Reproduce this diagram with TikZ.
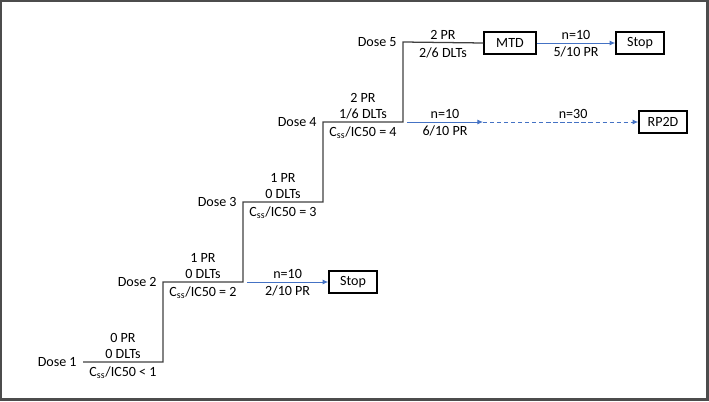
\documentclass[tikz,border=0pt]{standalone}
\usepackage{fontspec}
\setmainfont{Carlito}
\usetikzlibrary{arrows.meta,positioning}
\definecolor{flowblue}{HTML}{4472C4}

\tikzset{
  stair/.style={draw=black!75, line width=0.9pt},
  endbox/.style={draw, line width=1pt, minimum width=1.2cm, minimum height=0.54cm, inner sep=2pt},
  flow/.style={draw=flowblue, line width=0.65pt, -{Latex[length=4pt,width=3.5pt]}},
  lbl/.style={inner sep=1pt}
}

\begin{document}
\begin{tikzpicture}[x=0.025cm,y=-0.025cm,font=\fontsize{10}{12}\selectfont]
\def\w{80}

\useasboundingbox (0,0) rectangle (709,401);
\draw[black!70, line width=1.6pt] (1,1) rectangle (707.5,399.5);

% Corners of the staircase
\foreach \i in {1,...,5} {
  \coordinate (d\i) at ({83+(\i-1)*\w},{362-(\i-1)*\w});
  \coordinate (e\i) at ({83+\i*\w},{362-(\i-1)*\w});
  \node[left=1pt of d\i] (dose\i) {Dose \i};
}

% End boxes
\node[endbox, minimum width=1.3cm] (mtd) at (510,43) {MTD};
\node[endbox] (stop5) at (640,43) {Stop};
\node[endbox] (rp2d) at (663,122) {RP2D};
\node[endbox] (stop2) at (353,282) {Stop};

\draw[stair] (d1) -- (e1) -- (d2) -- (e2) -- (d3) -- (e3) -- (d4) -- (e4) -- (d5) -- (mtd.west);

% Labels on the steps
\foreach \i/\pr/\dlt/\rat in {1/0 PR/0 DLTs/{< 1}, 2/1 PR/0 DLTs/{= 2}, 3/1 PR/0 DLTs/{= 3}, 4/2 PR/{1/6 DLTs}/{= 4}} {
  \node[lbl] (pr\i) at ({83+(\i-1)*\w+40},{362-(\i-1)*\w-24}) {\pr};
  \node[lbl] (dlt\i) at ({83+(\i-1)*\w+40},{362-(\i-1)*\w-8}) {\dlt};
  \node[lbl] (css\i) at ({83+(\i-1)*\w+40},{362-(\i-1)*\w+11}) {C\textsubscript{ss}/IC50 \rat};
}
\node[lbl] (pr5) at (443,35) {2 PR};
\node[lbl] (dlt5) at (443,53) {2/6 DLTs};

% Expansion arms
\coordinate (out2) at (247,282);
\coordinate (out4) at (407,122);
\coordinate (mid4) at (483,122);

\draw[flow] (out2) -- node[lbl, above=1pt] (n2) {n=10} node[lbl, below=1pt] (r2) {2/10 PR} (stop2);
\draw[flow] (out4) -- node[lbl, above=1pt] (n4) {n=10} node[lbl, below=1pt] (r4) {6/10 PR} (mid4);
\draw[flow, dash pattern=on 3pt off 2pt] (mid4) -- node[lbl, above=1pt, pos=0.58] (m4) {n=30} (rp2d);
\draw[flow] (mtd) -- node[lbl, above=1pt] (n5) {n=10} node[lbl, below=1pt] (r5) {5/10 PR} (stop5);

\end{tikzpicture}
\end{document}
